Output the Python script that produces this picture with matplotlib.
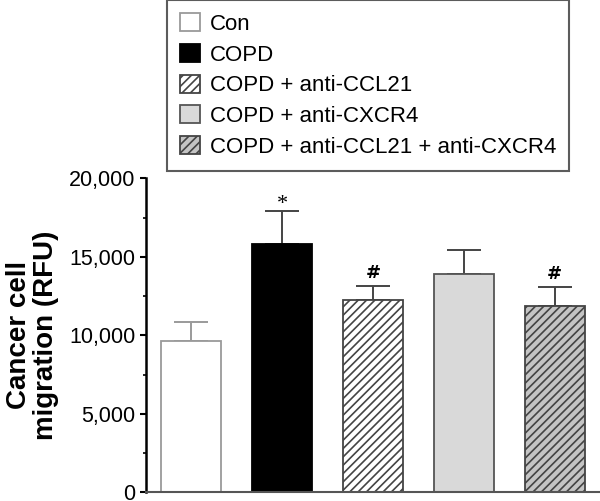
import numpy as np
import matplotlib.pyplot as plt
from matplotlib.ticker import MultipleLocator, FuncFormatter

plt.rcParams['font.family'] = ['Liberation Sans', 'DejaVu Sans']
plt.rcParams['hatch.linewidth'] = 1.2

# data
groups = ['Con', 'COPD', 'COPD + anti-CCL21', 'COPD + anti-CXCR4',
          'COPD + anti-CCL21 + anti-CXCR4']
means = [9650, 15850, 12280, 13880, 11880]
errs = [1200, 2050, 850, 1550, 1180]
marks = ['', '*', '#', '', '#']

faces = ['white', 'black', 'white', '#d9d9d9', '#c4c4c4']
edges = ['#9a9a9a', 'black', '#444444', '#555555', '#444444']
hatches = [None, None, '////', None, '////']

fig = plt.figure(figsize=(6.0, 5.01), dpi=100)
ax = fig.add_axes([0.2433, 0.017, 0.757, 0.627])

x = np.arange(len(groups))
handles = []
for i in range(len(groups)):
    b = ax.bar(x[i], means[i], width=0.66, color=faces[i], edgecolor=edges[i],
               hatch=hatches[i], linewidth=1.3, zorder=2)
    handles.append(b[0])
    ecol = '#9a9a9a' if i == 0 else '#444444'
    ax.errorbar(x[i], means[i], yerr=[[0], [errs[i]]], fmt='none', ecolor=ecol,
                elinewidth=1.4, capsize=12.5, capthick=1.4, zorder=1)
    if marks[i] == '*':
        ax.text(x[i], means[i] + errs[i] + 130, marks[i], ha='center', va='baseline',
                fontsize=16, family='Liberation Serif')
    elif marks[i]:
        ax.text(x[i], means[i] + errs[i] + 250, marks[i], ha='center', va='bottom',
                fontsize=13, family='DejaVu Sans', fontweight='bold')

ax.set_xlim(-0.5, 4.5)
ax.set_ylim(0, 20000)
ax.yaxis.set_major_locator(MultipleLocator(5000))
ax.yaxis.set_minor_locator(MultipleLocator(2500))
ax.yaxis.set_major_formatter(FuncFormatter(lambda v, p: f'{int(v):,}'))
ax.set_xticks([])
ax.tick_params(axis='y', which='major', length=4.5, width=1.5, labelsize=15.5, pad=3)
ax.tick_params(axis='y', which='minor', length=2.5, width=1.2)
for s in ['top', 'right']:
    ax.spines[s].set_visible(False)
ax.spines['left'].set_linewidth(1.8)
ax.spines['bottom'].set_linewidth(1.5)
ax.spines['bottom'].set_color('#555555')

ax.set_ylabel('Cancer cell\nmigration (RFU)', fontsize=20, fontweight='bold',
              linespacing=1.05, labelpad=7)

leg = fig.legend(handles=handles, labels=groups, loc='upper left',
                 bbox_to_anchor=(0.278, 1.0), fontsize=16, frameon=True,
                 fancybox=False, handlelength=0.88, handleheight=0.88,
                 handletextpad=0.45, labelspacing=0.4, borderpad=0.6,
                 borderaxespad=0.0)
leg.get_frame().set_edgecolor('#333333')
leg.get_frame().set_linewidth(1.5)

fig.savefig('out.png', dpi=100)
